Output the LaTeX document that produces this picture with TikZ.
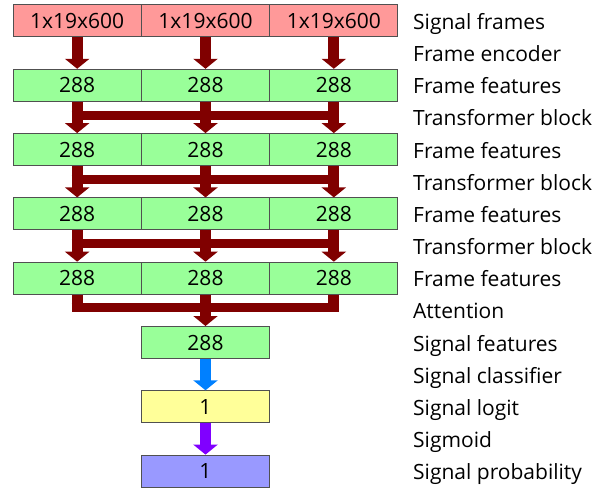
\documentclass[tikz,border=0pt]{standalone}
\usepackage{fontspec}
\setmainfont{Open Sans}
\usetikzlibrary{arrows.meta,calc}
\definecolor{cred}{HTML}{FF9999}
\definecolor{cgreen}{HTML}{99FF99}
\definecolor{cyellow}{HTML}{FFFF99}
\definecolor{cpurple}{HTML}{9999FF}
\definecolor{adark}{HTML}{800000}
\definecolor{ablue}{HTML}{0080FF}
\definecolor{aviolet}{HTML}{8000FF}
\definecolor{bord}{HTML}{505050}
\tikzset{
  cell/.style={draw=bord, line width=1pt, minimum width=128.33pt, minimum height=32pt, inner sep=0pt, font=\fontsize{21}{21}\selectfont},
  lbl/.style={anchor=base west, inner sep=0pt, font=\fontsize{21}{21}\selectfont},
  arr/.style={line width=11pt, -{Triangle[width=24pt,length=10pt]}},
  shaft/.style={line width=11pt},
  bar/.style={line width=9pt}
}
\begin{document}
\begin{tikzpicture}[x=1pt,y=-1pt]
\useasboundingbox (0,0) rectangle (602,489);
% rows of three cells
\foreach \r/\col/\txt in {0/cred/1x19x600,1/cgreen/288,2/cgreen/288,3/cgreen/288,4/cgreen/288}{
  \foreach \c in {0,1,2}{
    \node[cell, fill=\col] (r\r c\c) at ({13+128.33*(\c+0.5)}, {5+64.3*\r+16}) {\txt};
  }
}
\node[cell, fill=cgreen] (sf) at ({13+128.33*1.5}, {5+64.3*5+16}) {288};
\node[cell, fill=cyellow] (sl) at ({13+128.33*1.5}, {5+64.3*6+16}) {1};
\node[cell, fill=cpurple] (sp) at ({13+128.33*1.5}, {5+64.3*7+16}) {1};
% frame encoder arrows
\foreach \c in {0,1,2}{
  \draw[arr, adark] (r0c\c.south) -- (r1c\c.north);
}
% transformer blocks
\foreach \r/\n in {1/2,2/3,3/4}{
  \foreach \c in {0,1,2}{
    \draw[arr, adark] (r\r c\c.south) -- (r\n c\c.north);
  }
  \draw[bar, adark] ($(r\r c0.south)+(-5.5,13.5)$) -- ($(r\r c2.south)+(5.5,13.5)$);
}
% attention
\draw[shaft, adark] (r4c0.south) -- ($(r4c0.south)+(0,17.5)$);
\draw[shaft, adark] (r4c2.south) -- ($(r4c2.south)+(0,17.5)$);
\draw[bar, adark] ($(r4c0.south)+(-5.5,13)$) -- ($(r4c2.south)+(5.5,13)$);
\draw[arr, adark] (r4c1.south) -- (sf.north);
\draw[arr, ablue] (sf.south) -- (sl.north);
\draw[arr, aviolet] (sl.south) -- (sp.north);
% labels
\foreach \j/\t in {0/Signal frames,1/Frame encoder,2/Frame features,3/Transformer block,4/Frame features,5/Transformer block,6/Frame features,7/Transformer block,8/Frame features,9/Attention,10/Signal features,11/Signal classifier,12/Signal logit,13/Sigmoid,14/Signal probability}{
  \node[lbl] (l\j) at (413, {21+32.15*\j+8.5}) {\t};
}
\end{tikzpicture}
\end{document}
